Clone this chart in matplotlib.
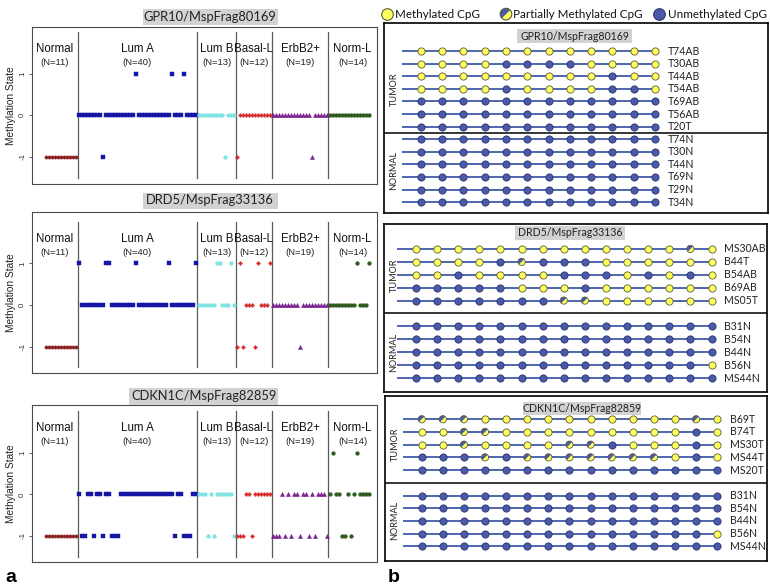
import numpy as np
import matplotlib
matplotlib.use("Agg")
import matplotlib.pyplot as plt
from matplotlib.patches import Rectangle
from matplotlib.path import Path
from matplotlib.transforms import blended_transform_factory

# ---------------- data: panel a ----------------
groups = ["Normal", "Lum A", "Lum B", "Basal-L", "ErbB2+", "Norm-L"]
group_n = [11, 40, 13, 12, 19, 14]

gpr10_normal = [-1, -1, -1, -1, -1, -1, -1, -1, -1, -1, -1]
gpr10_luma = [0, 0, 0, 0, 0, 0, 0, 0, -1, 0, 0, 0, 0, 0, 0, 0, 0, 0, 0, 1,
              0, 0, 0, 0, 0, 0, 0, 0, 0, 0, 0, 1, 0, 0, 0, 1, 0, 0, 0, 0]
gpr10_lumb = [0, 0, 0, 0, 0, 0, 0, 0, 0, -1, 0, 0, 0]
gpr10_basal = [-1, 0, 0, 0, 0, 0, 0, 0, 0, 0, 0, 0]
gpr10_erbb2 = [0, 0, 0, 0, 0, 0, 0, 0, 0, 0, 0, 0, 0, -1, 0, 0, 0, 0, 0]
gpr10_norml = [0, 0, 0, 0, 0, 0, 0, 0, 0, 0, 0, 0, 0, 0]

drd5_normal = [-1, -1, -1, -1, -1, -1, -1, -1, -1, -1, -1]
drd5_luma = [1, 0, 0, 0, 0, 0, 0, 0, 0, 1, 1, 0, 0, 0, 0, 0, 0, 0, 0, 1,
             0, 0, 0, 0, 0, 0, 0, 0, 0, 0, 1, 0, 0, 0, 0, 0, 0, 0, 0, 1]
drd5_lumb = [0, 0, 0, 0, 0, 0, 1, 1, 0, 0, 0, 1, 0]
drd5_basal = [-1, 1, -1, 0, 0, 0, -1, 1, 0, 0, 0, 1]
drd5_erbb2 = [0, 0, 0, 0, 0, 0, 0, 0, 0, -1, 0, 0, 0, 0, 0, 0, 0, 0, 0]
drd5_norml = [0, 0, 0, 0, 0, 0, 0, 0, 0, 1, 0, 0, 0, 1]

cdkn1c_normal = [-1, -1, -1, -1, -1, -1, -1, -1, -1, -1, -1]
cdkn1c_luma = [0, -1, -1, 0, 0, -1, 0, 0, -1, 0, 0, -1, -1, -1, 0, 0, 0, 0, 0, 0,
               0, 0, 0, 0, 0, 0, 0, 0, 0, 0, 0, 0, -1, 0, 0, -1, -1, -1, 0, 0]
cdkn1c_lumb = [0, 0, 0, -1, 0, -1, 0, 0, 0, 0, 0, 0, -1]
cdkn1c_basal = [-1, -1, -1, 0, 0, -1, 0, 0, 0, 0, 0, 0]
cdkn1c_erbb2 = [-1, -1, -1, 0, -1, 0, -1, 0, 0, -1, 0, 0, -1, 0, -1, 0, 0, 0, -1]
cdkn1c_norml = [0, 1, 0, 0, -1, -1, 0, -1, 0, 1, 0, 0, 0, 0]

panel_titles = ["GPR10/MspFrag80169", "DRD5/MspFrag33136", "CDKN1C/MspFrag82859"]
panel_values = [
    [gpr10_normal, gpr10_luma, gpr10_lumb, gpr10_basal, gpr10_erbb2, gpr10_norml],
    [drd5_normal, drd5_luma, drd5_lumb, drd5_basal, drd5_erbb2, drd5_norml],
    [cdkn1c_normal, cdkn1c_luma, cdkn1c_lumb, cdkn1c_basal, cdkn1c_erbb2, cdkn1c_norml],
]

# ---------------- data: panel b ----------------
cpg_titles = ["GPR10/MspFrag80169", "DRD5/MspFrag33136", "CDKN1C/MspFrag82859"]
# M = methylated, P = partially methylated, U = unmethylated
gpr10_tumor_ids = ["T74AB", "T30AB", "T44AB", "T54AB", "T69AB", "T56AB", "T20T"]
gpr10_tumor = ["MMMMMMMMMMMM", "MMMMUUUUMMMM", "MMMMMMMMMUMM", "MMMMUMMMMUUM",
               "UUUUUUUUUUUU", "UUUUUUUUUUUU", "UUUUUUUUUUUU"]
gpr10_normal_ids = ["T74N", "T30N", "T44N", "T69N", "T29N", "T34N"]
gpr10_normal_cpg = ["UUUUUUUUUUUU"] * 6

drd5_tumor_ids = ["MS30AB", "B44T", "B54AB", "B69AB", "MS05T"]
drd5_tumor = ["MMMMMMMMMMMMMPM", "MMMMUPUUUMMMMMM", "MMUMMMMUUUMUMUM",
              "UUUUUMMMUMMMMMM", "UUUUUUUPPMMMMMM"]
drd5_normal_ids = ["B31N", "B54N", "B44N", "B56N", "MS44N"]
drd5_normal_cpg = ["UUUUUUUUUUUUUUU", "UUUUUUUUUUUUUUU", "UUUUUUUUUUUUUUU",
                   "UUUUUUUUUUUUUUM", "UUUUUUUUUUUUUUU"]

cdkn1c_tumor_ids = ["B69T", "B74T", "MS30T", "MS44T", "MS20T"]
cdkn1c_tumor = ["PPPMMMMMMMMMMPM", "MMPPMMMMMMMMMUM", "MMPMMMMPPUMMMUM",
                "UUUPUPPPPPPPMUM", "UUUUUUUUUUUUUUU"]
cdkn1c_normal_ids = ["B31N", "B54N", "B44N", "B56N", "MS44N"]
cdkn1c_normal_cpg = ["UUUUUUUUUUUUUUU", "UUUUUUUUUUUUUUU", "UUUUUUUUUUUUUUU",
                     "UUUUUUUUUUUUUUM", "UUUUUUUUUUUUUUU"]

boxes = [
    (gpr10_tumor_ids, gpr10_tumor, gpr10_normal_ids, gpr10_normal_cpg),
    (drd5_tumor_ids, drd5_tumor, drd5_normal_ids, drd5_normal_cpg),
    (cdkn1c_tumor_ids, cdkn1c_tumor, cdkn1c_normal_ids, cdkn1c_normal_cpg),
]

# ---------------- layout helpers ----------------
W, H = 770, 585
fig = plt.figure(figsize=(W / 100, H / 100), dpi=100)


def rect_px(l, t, r, b):
    return [l / W, 1 - b / H, (r - l) / W, (b - t) / H]


def fig_box(l, t, r, b, text, fs, family):
    fig.patches.append(Rectangle((l / W, 1 - b / H), (r - l) / W, (b - t) / H,
                                 transform=fig.transFigure, facecolor="#d2d2d2",
                                 edgecolor="none", zorder=5))
    fig.text((l + r) / 2 / W, 1 - (t + b) / 2 / H, text, ha="center", va="center",
             fontsize=fs, family=family, color="#222222", zorder=6)


SANS = ["Liberation Sans", "DejaVu Sans"]
CAL = ["Lato", "DejaVu Sans"]

# ---------------- panel a ----------------
styles = [
    dict(marker="o", color="#8b2020", ms=2.4),
    dict(marker="s", color="#1616a6", ms=2.5),
    dict(marker="o", color="#7fe3e3", ms=2.7),
    dict(marker="P", color="#d42626", ms=2.6),
    dict(marker="^", color="#7a1f8e", ms=3.0),
    dict(marker="o", color="#2f5a1d", ms=2.7),
]

a_rects = [(31.7, 27, 376.7, 184), (31.7, 212.3, 376.7, 373.3), (31.7, 405, 376.7, 561.7)]
a_ylims = [(-1.65, 2.12), (-1.64, 2.23), (-1.62, 2.15)]
a_title_rects = [(142.7, 9.0, 277.7, 24.5), (142.7, 192.5, 277.7, 208.5),
                 (129.3, 388.0, 277.7, 404.5)]
xlim = (-3.93, 111.67)

bounds = np.concatenate([[0], np.cumsum(group_n)]) + 0.5

for p in range(3):
    ax = fig.add_axes(rect_px(*a_rects[p]))
    start = 0
    for g, vals in enumerate(panel_values[p]):
        x = np.arange(start + 1, start + 1 + len(vals))
        st = styles[g]
        ax.plot(x, vals, linestyle="none", marker=st["marker"], color=st["color"],
                markersize=st["ms"], markeredgewidth=0.3, markeredgecolor=st["color"],
                zorder=3)
        start += group_n[g]
    for b in bounds[1:-1]:
        ax.plot([b, b], [-1.5, 2.0], color="#5a5a5a", lw=0.9, zorder=2)
    edges = [xlim[0]] + list(bounds[1:-1]) + [xlim[1]]
    for g in range(len(groups)):
        cx = (edges[g] + edges[g + 1]) / 2
        ax.text(cx, 1.59, groups[g], ha="center", va="center", fontsize=8.3,
                family=SANS, color="#111111")
        ax.text(cx, 1.27, "(N=%d)" % group_n[g], ha="center", va="center",
                fontsize=6.8, family=SANS, color="#222222")
    ax.set_xlim(*xlim)
    ax.set_ylim(*a_ylims[p])
    ax.set_xticks([])
    ax.set_yticks([-1, 0, 1])
    ax.set_yticklabels(["-1", "0", "1"], rotation=90, va="center",
                       fontsize=5.8, family=SANS)
    ax.tick_params(axis="y", length=2.5, width=0.6, pad=1.5, color="#444444",
                   labelcolor="#333333")
    for s in ax.spines.values():
        s.set_color("#4a4a4a")
        s.set_linewidth(0.8)
    ax.set_ylabel("Methylation State", fontsize=7.3, family=SANS, color="#222222")
    ax.yaxis.set_label_coords(-15.5 / 345, 0.5)
    fig_box(*a_title_rects[p], panel_titles[p], 9.3, CAL)

# ---------------- panel b ----------------
BLUE = "#4a5aa8"
BLUE_E = "#2a3570"
YEL = "#ffff5e"
YEL_E = "#5b5b35"
LINE = "#4e66b0"
wedge = Path.wedge(45, 225)

b_rects = [(384, 22.7, 768, 213), (384, 224.3, 767, 391.7), (385, 396, 767, 560.7)]
b_xlims = [(-1.72, 16.3), (-1.52, 16.63), (-1.74, 16.36)]
b_ylims = [(12.86, -2.25), (11.06, -1.91), (11.13, -1.83)]
b_gaps = [0, 1, 1]
b_title_rects = [(517.3, 29.3, 632.3, 43.3), (515, 225.5, 625, 240.0),
                 (522.7, 401.7, 640.7, 415.0)]

S = 27
for bi in range(3):
    ax = fig.add_axes(rect_px(*b_rects[bi]))
    t_ids, t_rows, n_ids, n_rows = boxes[bi]
    ids = list(t_ids) + list(n_ids)
    rows = list(t_rows) + list(n_rows)
    ypos = list(range(len(t_rows))) + [len(t_rows) + b_gaps[bi] + k for k in range(len(n_rows))]
    ncpg = len(rows[0])
    xs = np.arange(ncpg)
    for y, row, lab in zip(ypos, rows, ids):
        ax.plot([-0.85, ncpg - 1], [y, y], color=LINE, lw=1.4, zorder=1)
        st = np.array(list(row))
        m = st == "M"
        u = st == "U"
        pm = st == "P"
        ax.scatter(xs[u], np.full(u.sum(), y), s=S, c=BLUE, edgecolors=BLUE_E,
                   linewidths=0.6, zorder=3)
        ax.scatter(xs[m], np.full(m.sum(), y), s=S, c=YEL, edgecolors=YEL_E,
                   linewidths=0.6, zorder=3)
        if pm.any():
            ax.scatter(xs[pm], np.full(pm.sum(), y), s=S, c=YEL, edgecolors="none", zorder=3)
            ax.scatter(xs[pm], np.full(pm.sum(), y), s=S, marker=wedge, c=BLUE,
                       edgecolors="none", zorder=4)
            ax.scatter(xs[pm], np.full(pm.sum(), y), s=S, facecolors="none",
                       edgecolors=YEL_E, linewidths=0.6, zorder=5)
        ax.text(ncpg - 1 + 0.6, y, lab, ha="left", va="center", fontsize=7.6,
                family=CAL, color="#222222")
    div = (len(t_rows) - 1 + len(t_rows) + b_gaps[bi]) / 2
    ax.axhline(div, color="black", lw=1.1)
    tr = blended_transform_factory(ax.transAxes, ax.transData)
    bw = b_rects[bi][2] - b_rects[bi][0]
    ax.text(10 / bw, np.mean(ypos[:len(t_rows)]), "TUMOR", rotation=90, ha="center",
            va="center", fontsize=6.6, family=CAL, transform=tr, color="#222222")
    ax.text(10 / bw, np.mean(ypos[len(t_rows):]), "NORMAL", rotation=90, ha="center",
            va="center", fontsize=6.6, family=CAL, transform=tr, color="#222222")
    ax.set_xlim(*b_xlims[bi])
    ax.set_ylim(*b_ylims[bi])
    ax.set_xticks([])
    ax.set_yticks([])
    for s in ax.spines.values():
        s.set_color("black")
        s.set_linewidth(1.2)
    fig_box(*b_title_rects[bi], cpg_titles[bi], 7.6, CAL)

# legend for panel b
leg = fig.add_axes([0, 1 - 24 / H, 1, 18 / H])
leg.set_xlim(0, W)
leg.set_ylim(0, 1)
leg.axis("off")
leg_items = [("Methylated CpG", "M", 387.3, 395), ("Partially Methylated CpG", "P", 506, 513.3),
             ("Unmethylated CpG", "U", 659.3, 667.5)]
LS = 70
for lab, kind, cx, tx in leg_items:
    if kind == "M":
        leg.scatter([cx], [0.55], s=LS, c=YEL, edgecolors=YEL_E, linewidths=0.8)
    elif kind == "U":
        leg.scatter([cx], [0.55], s=LS, c=BLUE, edgecolors=BLUE_E, linewidths=0.8)
    else:
        leg.scatter([cx], [0.55], s=LS, c=YEL, edgecolors="none")
        leg.scatter([cx], [0.55], s=LS, marker=wedge, c=BLUE, edgecolors="none")
        leg.scatter([cx], [0.55], s=LS, facecolors="none", edgecolors=YEL_E, linewidths=0.8)
    leg.text(tx, 0.5, lab, ha="left", va="center", fontsize=8.4, family=CAL, color="#111111")

fig.text(5 / W, 1 - 577 / H, "a", fontsize=14, fontweight="bold", family=SANS, va="center")
fig.text(388 / W, 1 - 577 / H, "b", fontsize=14, fontweight="bold", family=SANS, va="center")

fig.savefig("out.png", dpi=100)
